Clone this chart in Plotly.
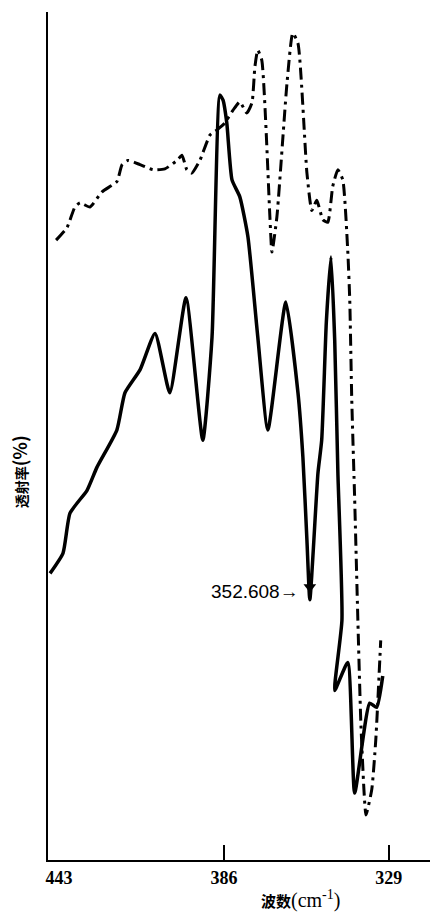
import plotly.graph_objects as go

# Solid curve (wavenumber cm^-1, transmittance %)
solid_wn = [446.1, 441.6, 439.2, 433.3, 429.9, 423.0, 420.2, 415.0, 409.8, 404.7,
            399.1, 393.3, 390.1, 387.4, 386.3, 385.0, 383.2, 380.5, 377.7, 374.3,
            370.8, 364.6, 360.4, 358.7, 357.3, 356.3, 353.5, 352.2, 350.6, 349.0,
            347.7, 346.6, 345.2, 347.7, 343.2, 340.8, 335.6, 333.2, 331.1]
solid_t = [33.8, 36.2, 40.9, 43.6, 46.3, 50.7, 55.1, 57.8, 62.1, 55.1,
           66.3, 49.5, 61.7, 90.2, 89.6, 86.9, 80.2, 78.2, 73.5, 61.7,
           50.7, 65.8, 55.1, 47.5, 37.7, 30.7, 45.6, 49.5, 63.4, 71.1,
           61.3, 45.6, 28.3, 20.0, 23.3, 7.9, 18.5, 18.0, 21.7]

# Dash-dot curve
dash_wn = [444.0, 440.2, 437.5, 435.7, 432.3, 428.1, 423.0, 421.2, 419.2, 415.0,
           410.5, 406.4, 402.2, 400.5, 398.8, 397.1, 394.3, 390.8, 388.4, 385.7,
           382.9, 380.5, 378.1, 376.3, 375.3, 374.3, 372.9, 370.1, 369.4, 367.7,
           364.2, 362.2, 360.4, 357.3, 355.6, 353.9, 351.8, 350.1, 348.4, 346.6,
           344.9, 343.2, 342.5, 341.8, 340.8, 339.7, 338.7, 337.6, 336.9, 334.9,
           333.5, 331.8]
dash_t = [73.1, 74.6, 77.0, 77.5, 77.0, 78.8, 80.0, 82.0, 82.5, 82.0,
          81.4, 81.5, 82.5, 83.1, 81.4, 81.0, 82.5, 85.5, 86.1, 86.9,
          88.4, 89.4, 88.1, 89.3, 93.5, 95.5, 94.3, 75.8, 71.7, 75.8,
          91.6, 97.5, 96.3, 81.0, 76.6, 77.8, 75.5, 75.2, 79.4, 81.4,
          80.2, 71.9, 66.0, 54.2, 42.5, 28.3, 16.5, 8.3, 5.3, 8.3,
          14.2, 25.9]

tick_vals = [443, 386, 329]
tick_text = ["443", "386", "329"]
peak_label = "352.608→"
x_title = "<span style='font-family:Noto Sans CJK SC;font-size:15px;font-weight:bold'>波数</span>(cm<sup>-1</sup>)"
y_title = "透射率<span style='font-size:18px'>(%)</span>"

fig = go.Figure()
fig.add_trace(go.Scatter(x=dash_wn, y=dash_t, mode="lines",
                         line=dict(color="black", width=3, dash="12px,5px,3px,5px"),
                         line_shape="spline", line_smoothing=0.5,
                         showlegend=False, hoverinfo="skip"))
fig.add_trace(go.Scatter(x=solid_wn, y=solid_t, mode="lines",
                         line=dict(color="black", width=3.5),
                         line_shape="spline", line_smoothing=0.5,
                         showlegend=False, hoverinfo="skip"))
# arrow-head marker at the labelled trough
i_min = solid_t.index(min(solid_t[20:30]))
fig.add_trace(go.Scatter(x=[solid_wn[i_min]], y=[solid_t[i_min] + 1.5], mode="markers",
                         marker=dict(symbol="triangle-down", size=11, color="black"),
                         showlegend=False, hoverinfo="skip"))

fig.add_annotation(x=solid_wn[i_min] + 3.0, y=solid_t[i_min] + 1.0, xref="x", yref="y",
                   text=peak_label, showarrow=False, xanchor="right", yanchor="middle",
                   font=dict(family="Liberation Sans", size=19, color="black"))
fig.add_annotation(x=0.6466, y=-0.047, xref="paper", yref="paper", text=x_title,
                   showarrow=False, xanchor="center", yanchor="middle",
                   font=dict(family="Liberation Serif", size=20, color="black"))
fig.add_annotation(x=-0.074, y=0.4575, xref="paper", yref="paper", text=y_title,
                   showarrow=False, textangle=-90, xanchor="center", yanchor="middle",
                   font=dict(family="Noto Sans CJK SC", size=14, color="black",
                             weight="bold"))

# page body has an 8px default margin: size the figure so the plot area lands at
# x 48..438, y 12..860 of the window
fig.update_layout(
    width=430, height=908,
    margin=dict(l=40, r=0, t=4, b=56),
    paper_bgcolor="white", plot_bgcolor="white",
    xaxis=dict(range=[446.8, 312.0], tickvals=tick_vals, ticktext=tick_text,
               ticks="", showgrid=False, zeroline=False,
               showline=True, linecolor="black", linewidth=2,
               tickfont=dict(family="Liberation Serif", size=18, color="black",
                             weight="bold"),
               minor=dict(tickvals=[386, 329], ticks="inside", ticklen=15,
                          tickwidth=2, tickcolor="black", showgrid=False)),
    yaxis=dict(range=[0, 100], showticklabels=False, ticks="", showgrid=False,
               zeroline=False, showline=True, linecolor="black", linewidth=2),
)

fig.write_html("out.html")
